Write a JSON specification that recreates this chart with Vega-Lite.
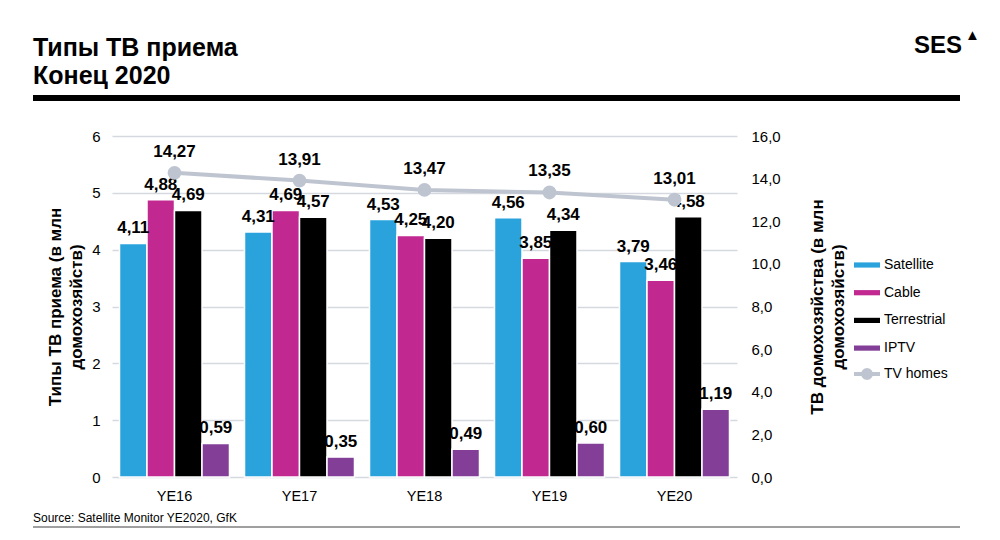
{
  "$schema": "https://vega.github.io/schema/vega-lite/v6.json",
  "padding": {"left": 30, "top": 28, "right": 5, "bottom": 5},
  "spacing": 9,
  "config": {
    "locale": {"number": {"decimal": ",", "thousands": " ", "grouping": [3], "currency": ["", ""]}},
    "font": "Liberation Sans",
    "view": {"stroke": null},
    "axis": {"labelFont": "Liberation Sans", "titleFont": "Liberation Sans", "labelColor": "black", "titleColor": "black"}
  },
  "datasets": {
    "bars": [
      {"year": "YE16", "type": "Satellite", "value": 4.11},
      {"year": "YE16", "type": "Cable", "value": 4.88},
      {"year": "YE16", "type": "Terrestrial", "value": 4.69},
      {"year": "YE16", "type": "IPTV", "value": 0.59},
      {"year": "YE17", "type": "Satellite", "value": 4.31},
      {"year": "YE17", "type": "Cable", "value": 4.69},
      {"year": "YE17", "type": "Terrestrial", "value": 4.57},
      {"year": "YE17", "type": "IPTV", "value": 0.35},
      {"year": "YE18", "type": "Satellite", "value": 4.53},
      {"year": "YE18", "type": "Cable", "value": 4.25},
      {"year": "YE18", "type": "Terrestrial", "value": 4.20},
      {"year": "YE18", "type": "IPTV", "value": 0.49},
      {"year": "YE19", "type": "Satellite", "value": 4.56},
      {"year": "YE19", "type": "Cable", "value": 3.85},
      {"year": "YE19", "type": "Terrestrial", "value": 4.34},
      {"year": "YE19", "type": "IPTV", "value": 0.60},
      {"year": "YE20", "type": "Satellite", "value": 3.79},
      {"year": "YE20", "type": "Cable", "value": 3.46},
      {"year": "YE20", "type": "Terrestrial", "value": 4.58},
      {"year": "YE20", "type": "IPTV", "value": 1.19}
    ],
    "homes": [
      {"year": "YE16", "homes": 14.27},
      {"year": "YE17", "homes": 13.91},
      {"year": "YE18", "homes": 13.47},
      {"year": "YE19", "homes": 13.35},
      {"year": "YE20", "homes": 13.01}
    ]
  },
  "vconcat": [
    {
      "width": 625,
      "height": 84,
      "data": {"values": [{}]},
      "layer": [
        {
          "mark": {"type": "rule", "color": "black", "strokeWidth": 6},
          "encoding": {
            "x": {"datum": 0, "type": "quantitative", "scale": {"domain": [0, 1], "range": [-79, 848]}, "axis": null},
            "x2": {"datum": 1},
            "y": {"datum": 0, "type": "quantitative", "scale": {"domain": [0, 1], "range": [62, 0]}, "axis": null}
          }
        },
        {
          "mark": {"type": "text", "align": "left", "baseline": "top", "fontSize": 25, "fontWeight": "bold", "lineHeight": 28, "color": "black", "text": ["Типы ТВ приема", "Конец 2020"]},
          "encoding": {
            "x": {"datum": 0, "type": "quantitative"},
            "y": {"datum": 1, "type": "quantitative"}
          }
        },
        {
          "mark": {"type": "text", "align": "right", "baseline": "top", "fontSize": 24, "fontWeight": "bold", "color": "black", "dx": 2, "dy": -2, "text": "SES"},
          "encoding": {
            "x": {"datum": 1, "type": "quantitative"},
            "y": {"datum": 1, "type": "quantitative"}
          }
        },
        {
          "mark": {"type": "text", "align": "left", "baseline": "top", "fontSize": 15, "color": "black", "dx": 5, "dy": -8, "text": "▲"},
          "encoding": {
            "x": {"datum": 1, "type": "quantitative"},
            "y": {"datum": 1, "type": "quantitative"}
          }
        }
      ]
    },
    {
      "width": 625,
      "height": 341,
      "layer": [
        {
          "data": {"name": "bars"},
          "encoding": {
            "x": {
              "field": "year",
              "type": "nominal",
              "title": null,
              "scale": {"paddingInner": 0.12, "paddingOuter": 0.06},
              "axis": {"labelAngle": 0, "labelFontSize": 14.5, "labelPadding": 12, "domain": false, "ticks": false, "tickSize": 0}
            },
            "xOffset": {"field": "type", "type": "nominal", "sort": ["Satellite", "Cable", "Terrestrial", "IPTV"], "scale": {"paddingInner": 0, "paddingOuter": 0}},
            "y": {
              "field": "value",
              "type": "quantitative",
              "scale": {"domain": [0, 6]},
              "axis": {
                "values": [0, 1, 2, 3, 4, 5, 6],
                "format": "d",
                "domain": false,
                "ticks": false,
                "tickSize": 0,
                "labelFontSize": 15,
                "labelPadding": 12,
                "gridColor": "#d5d9df",
                "gridWidth": 1.3,
                "title": ["Типы ТВ приема (в млн", "домохозяйств)"],
                "titleFontSize": 17,
                "titleFontWeight": "bold",
                "titleLineHeight": 21,
                "titlePadding": 6
              }
            }
          },
          "layer": [
            {
              "mark": {"type": "bar", "stroke": "white", "strokeWidth": 1.5},
              "encoding": {
                "color": {
                  "field": "type",
                  "type": "nominal",
                  "scale": {
                    "domain": ["Satellite", "Cable", "Terrestrial", "IPTV"],
                    "range": ["#2aa3dc", "#c12890", "#000000", "#833f98"]
                  },
                  "legend": {
                    "orient": "none",
                    "legendX": 742,
                    "legendY": 216,
                    "title": null,
                    "labelFont": "Liberation Sans",
                    "labelFontSize": 14,
                    "labelColor": "black",
                    "labelOffset": 4,
                    "rowPadding": 7.7,
                    "symbolSize": 676,
                    "symbolStrokeWidth": 0,
                    "symbolType": "M-1,-0.2H1V0.2H-1Z"
                  }
                }
              }
            },
            {
              "mark": {"type": "text", "baseline": "alphabetic", "dy": -10, "fontSize": 17, "fontWeight": "bold", "color": "black"},
              "encoding": {
                "text": {"field": "value", "type": "quantitative", "format": ".2f"}
              }
            }
          ]
        },
        {
          "data": {"name": "homes"},
          "encoding": {
            "x": {"field": "year", "type": "nominal"},
            "y": {
              "field": "homes",
              "type": "quantitative",
              "scale": {"domain": [0, 16]},
              "axis": {
                "orient": "right",
                "values": [0, 2, 4, 6, 8, 10, 12, 14, 16],
                "format": ".1f",
                "grid": false,
                "domain": false,
                "ticks": false,
                "tickSize": 0,
                "labelFontSize": 15,
                "labelPadding": 14,
                "title": ["ТВ домохозяйства (в млн", "домохозяйств)"],
                "titleFontSize": 17,
                "titleFontWeight": "bold",
                "titleLineHeight": 21,
                "titleAngle": -90,
                "titleBaseline": "top",
                "titlePadding": 8
              }
            }
          },
          "layer": [
            {
              "mark": {"type": "line", "strokeWidth": 4, "point": {"filled": true, "size": 140, "color": "#bfc5d0"}},
              "encoding": {
                "stroke": {
                  "datum": "TV homes",
                  "scale": {"domain": ["TV homes"], "range": ["#bfc5d0"]},
                  "legend": {
                    "orient": "none",
                    "legendX": 742,
                    "legendY": 325,
                    "title": null,
                    "labelFont": "Liberation Sans",
                    "labelFontSize": 14,
                    "labelColor": "black",
                    "labelOffset": 4,
                    "symbolSize": 676,
                    "symbolType": "M-1,-0.15H1V0.15H-1Z M0.46,0L0.398,0.23L0.23,0.398L0,0.46L-0.23,0.398L-0.398,0.23L-0.46,0L-0.398,-0.23L-0.23,-0.398L0,-0.46L0.23,-0.398L0.398,-0.23Z",
                    "symbolFillColor": "#bfc5d0",
                    "symbolStrokeWidth": 0,
                    "encode": {
                      "symbols": {
                        "update": {
                          "fill": {"value": "#bfc5d0"},
                          "strokeWidth": {"value": 0}
                        }
                      }
                    }
                  }
                }
              }
            },
            {
              "mark": {"type": "text", "baseline": "alphabetic", "dy": -16, "fontSize": 17, "fontWeight": "bold", "color": "black"},
              "encoding": {
                "text": {"field": "homes", "type": "quantitative", "format": ".2f"}
              }
            }
          ]
        }
      ],
      "resolve": {"scale": {"y": "independent"}}
    },
    {
      "width": 625,
      "height": 14,
      "data": {"values": [{}]},
      "layer": [
        {
          "mark": {"type": "text", "align": "left", "baseline": "top", "fontSize": 12, "color": "black", "text": "Source: Satellite Monitor YE2020, GfK"},
          "encoding": {
            "x": {"datum": 0, "type": "quantitative", "scale": {"domain": [0, 1], "range": [-79, 848]}, "axis": null},
            "y": {"datum": 1, "type": "quantitative", "scale": {"domain": [0, 1]}, "axis": null}
          }
        },
        {
          "mark": {"type": "rule", "color": "#7f7f7f", "strokeWidth": 1.5},
          "encoding": {
            "x": {"datum": 0, "type": "quantitative"},
            "x2": {"datum": 1},
            "y": {"datum": 0, "type": "quantitative"}
          }
        }
      ]
    }
  ]
}
